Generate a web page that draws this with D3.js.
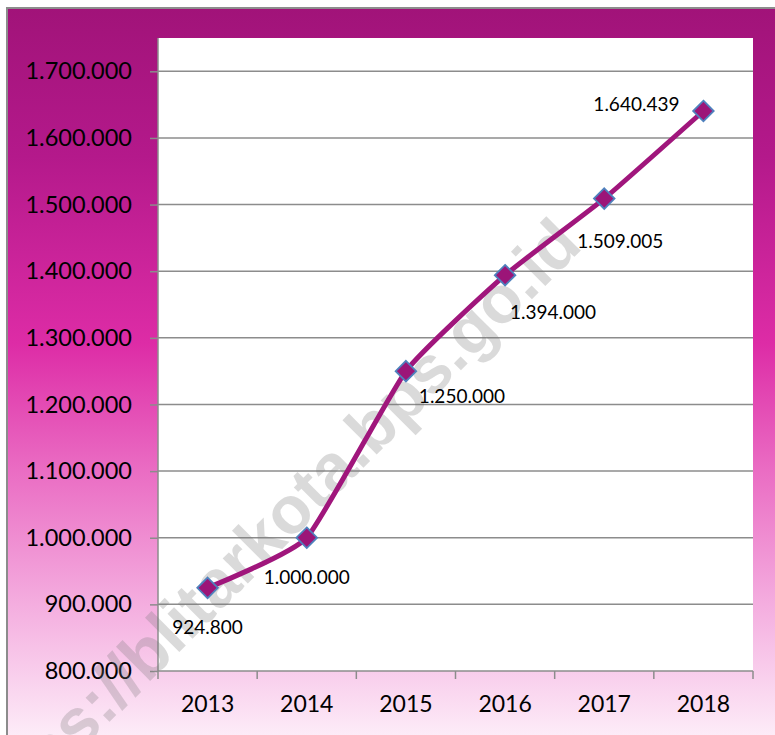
<!DOCTYPE html>
<html><head><meta charset="utf-8">
<script src="https://cdn.jsdelivr.net/npm/d3@7"></script>
<style>html,body{margin:0;padding:0;background:#fff;}svg{display:block;}</style>
</head><body>
<svg id="chart" width="775" height="735"></svg>
<script>
const years = ["2013","2014","2015","2016","2017","2018"];
const values = [924800, 1000000, 1250000, 1394000, 1509005, 1640439];
const yTicks = [800000, 900000, 1000000, 1100000, 1200000, 1300000, 1400000, 1500000, 1600000, 1700000];
const watermarkText = "https://blitarkota.bps.go.id";
// label placement (style, not data): offset from marker
const labelDx = [0, 0, 56, 48, 16, -67];
const labelDy = [39, 39, 24, 36, 42, -8];

const svg = d3.select("#chart");
const W = 775, H = 735;
const plot = {l:158, t:38, r:753, b:671};
const FONT = "Lato, 'Liberation Sans', sans-serif";

const fmt = v => d3.format(",")(v).replace(/,/g, ".");

const defs = svg.append("defs");
const g = defs.append("linearGradient").attr("id","bg").attr("x1",0).attr("y1",0).attr("x2",0).attr("y2",1);
[[0,"#a11379"],[0.2,"#b4198b"],[0.45,"#dd2ca6"],[0.62,"#ea6cc3"],[0.8,"#f4addf"],[1,"#fef4fb"]]
  .forEach(s=>g.append("stop").attr("offset",s[0]).attr("stop-color",s[1]));

svg.append("rect").attr("x",7).attr("y",8).attr("width",W+10).attr("height",H+10)
  .attr("fill","url(#bg)").attr("stroke","#8c8c8c").attr("stroke-width",2);

svg.append("rect").attr("x",plot.l).attr("y",plot.t).attr("width",plot.r-plot.l).attr("height",plot.b-plot.t).attr("fill","#fff");

const x = d3.scaleBand().domain(years).range([plot.l, plot.r]);
const y = d3.scaleLinear().domain([800000, 1750000]).range([plot.b, plot.t]);

// gridlines
svg.append("g").selectAll("line").data(yTicks.slice(1)).join("line")
  .attr("x1",plot.l).attr("x2",plot.r).attr("y1",d=>y(d)).attr("y2",d=>y(d))
  .attr("stroke","#8c8c8c").attr("stroke-width",1.5);

// y axis
const yAxis = d3.axisLeft(y).tickValues(yTicks).tickFormat(fmt).tickSize(8).tickPadding(18);
const ya = svg.append("g").attr("transform",`translate(${plot.l},0)`).call(yAxis);
ya.select(".domain").attr("stroke","#8c8c8c").attr("stroke-width",1.5).attr("d",`M0,${plot.t}V${plot.b}`);
ya.selectAll(".tick line").attr("stroke","#8c8c8c").attr("stroke-width",1.5);
ya.selectAll("text").attr("font-family",FONT).attr("font-size",23.5).attr("fill","#000");

// x axis
const xAxis = d3.axisBottom(x).tickSize(0).tickPadding(25);
const xa = svg.append("g").attr("transform",`translate(0,${plot.b})`).call(xAxis);
xa.select(".domain").attr("stroke","#8c8c8c").attr("stroke-width",1.5).attr("d",`M${plot.l},0H${plot.r}`);
xa.selectAll("text").attr("font-family",FONT).attr("font-size",23).attr("fill","#000");
const bounds = years.map(d=>x(d)).concat([plot.r]);
xa.append("g").selectAll("line").data(bounds).join("line")
  .attr("x1",d=>d).attr("x2",d=>d).attr("y1",0).attr("y2",8).attr("stroke","#8c8c8c").attr("stroke-width",1.5);

// watermark
svg.append("text").text(watermarkText)
  .attr("transform","translate(270,528) rotate(-45)")
  .attr("text-anchor","middle").attr("dominant-baseline","central")
  .attr("font-family","'Liberation Sans', Arial, sans-serif").attr("font-weight","bold").attr("font-size",67)
  .attr("fill","rgba(120,120,120,0.27)");

// line
const cx = d => x(d) + x.bandwidth()/2;
const line = d3.line().x((d,i)=>cx(years[i])).y(d=>y(d)).curve(d3.curveCardinal.tension(0.55));
svg.append("path").datum(values).attr("d",line).attr("fill","none")
  .attr("stroke","#a0167c").attr("stroke-width",5).attr("stroke-linejoin","round");

// markers
const sym = d3.symbol().type(d3.symbolDiamond2).size(270);
svg.append("g").selectAll("path").data(values).join("path")
  .attr("d",sym).attr("transform",(d,i)=>`translate(${cx(years[i])},${y(d)})`)
  .attr("fill","#9c1578").attr("stroke","#4f81bd").attr("stroke-width",1.8);

// labels
svg.append("g").selectAll("text").data(values).join("text")
  .text(fmt)
  .attr("x",(d,i)=>cx(years[i])+labelDx[i]).attr("y",(d,i)=>y(d)+labelDy[i])
  .attr("text-anchor","middle").attr("dominant-baseline","central")
  .attr("font-family",FONT).attr("font-size",19).attr("fill","#000");
</script>
</body></html>
